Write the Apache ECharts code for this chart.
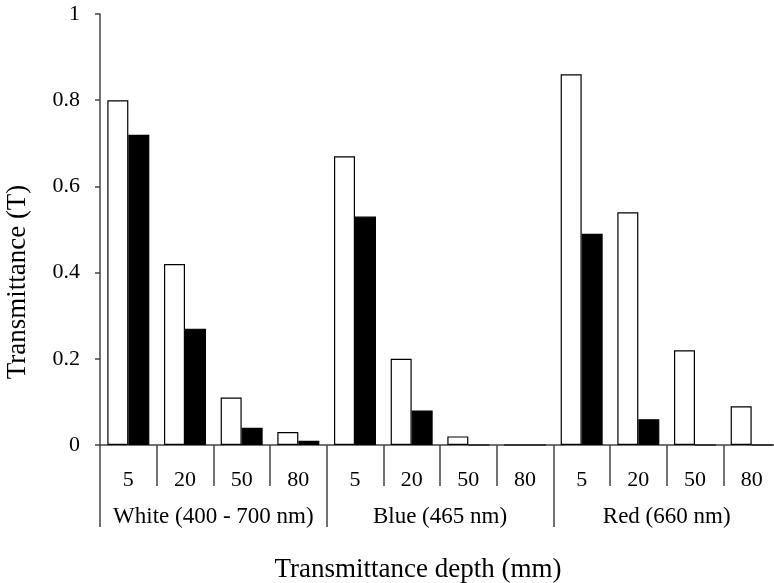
<!DOCTYPE html>
<html>
<head>
<meta charset="utf-8">
<script src="https://cdn.jsdelivr.net/npm/echarts@6/dist/echarts.min.js"></script>
<style>html,body{margin:0;padding:0;background:#fff;overflow:hidden;}#c{width:774px;height:583px;}</style>
</head>
<body>
<div id="c"></div>
<script>
const depthLabels = ['5','20','50','80','5','20','50','80','5','20','50','80'];
const groupLabels = ['White (400 - 700 nm)', 'Blue (465 nm)', 'Red (660 nm)'];
const whiteBars = [0.80, 0.42, 0.11, 0.03, 0.67, 0.20, 0.02, 0, 0.86, 0.54, 0.22, 0.09];
const blackBars = [0.72, 0.27, 0.04, 0.01, 0.53, 0.08, 0, 0, 0.49, 0.06, 0, 0];
const yTicks = [0, 0.2, 0.4, 0.6, 0.8, 1];

const font = 'Liberation Serif';
const axisColor = '#444';
const chart = echarts.init(document.getElementById('c'));
chart.setOption({
  animation: false,
  grid: { left: 100, width: 680, top: 14, bottom: 138, containLabel: false, outerBoundsMode: 'none' },
  xAxis: [
    {
      type: 'category', data: depthLabels, position: 'bottom',
      axisLine: { lineStyle: { color: axisColor, width: 1.5 } },
      axisTick: { show: true, interval: 0, alignWithLabel: false, length: 41, lineStyle: { color: axisColor, width: 1.5 } },
      axisLabel: { interval: 0, margin: 24, color: '#000', fontFamily: font, fontSize: 22 }
    },
    {
      type: 'category', data: groupLabels, position: 'bottom',
      axisLine: { show: false },
      axisTick: { show: true, interval: 0, alignWithLabel: false, length: 82, lineStyle: { color: axisColor, width: 1.5 } },
      axisLabel: { interval: 0, margin: 60, color: '#000', fontFamily: font, fontSize: 23 }
    }
  ],
  yAxis: {
    type: 'value', min: 0, max: 1, interval: 0.2,
    splitLine: { show: false },
    axisLine: { show: true, lineStyle: { color: axisColor, width: 1.5 } },
    axisTick: { show: true, inside: false, length: 5, lineStyle: { color: axisColor, width: 1.5 } },
    axisLabel: {
      margin: 20, color: '#000', fontFamily: font, fontSize: 22,
      formatter: v => { const t = yTicks.find(x => Math.abs(x - v) < 1e-9); return t === undefined ? '' : String(t); }
    }
  },
  graphic: [
    {
      type: 'text', x: 18, y: 282, rotation: Math.PI / 2,
      style: { text: 'Transmittance (T)', fill: '#000', font: '27px "Liberation Serif"', align: 'center', verticalAlign: 'middle' }
    },
    {
      type: 'text', x: 418, y: 570,
      style: { text: 'Transmittance depth (mm)', fill: '#000', font: '27px "Liberation Serif"', align: 'center', verticalAlign: 'middle' }
    }
  ],
  series: [
    {
      type: 'bar', xAxisIndex: 0, data: whiteBars, barWidth: 21, barGap: '0%',
      itemStyle: { color: '#fff', borderColor: '#000', borderWidth: 1.2 }
    },
    {
      type: 'bar', xAxisIndex: 0, data: blackBars, barWidth: 21, barGap: '0%',
      itemStyle: { color: '#000', borderColor: '#000', borderWidth: 1.2 }
    }
  ]
});
</script>
</body>
</html>
